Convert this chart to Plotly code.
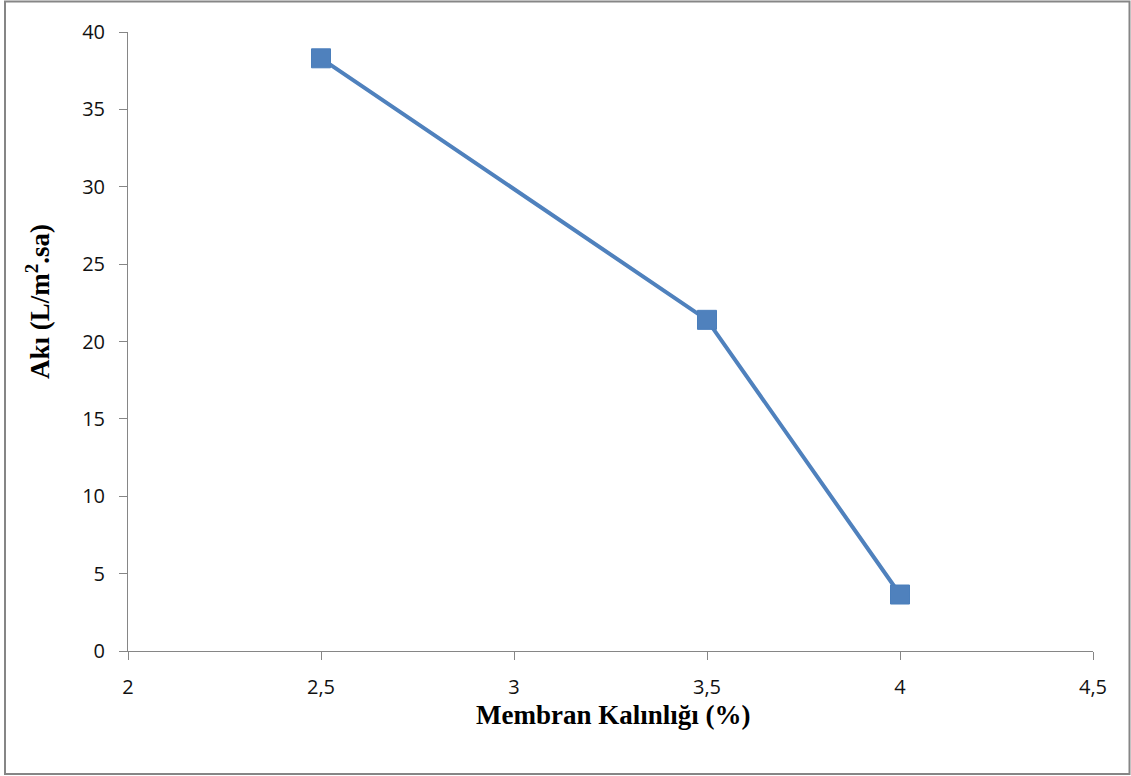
import plotly.graph_objects as go

thickness = [2.5, 3.5, 4.0]
flux = [38.3, 21.4, 3.65]
x_ticks = [2, 2.5, 3, 3.5, 4, 4.5]
x_tick_labels = ["2", "2,5", "3", "3,5", "4", "4,5"]
y_ticks = [0, 5, 10, 15, 20, 25, 30, 35, 40]

W, H = 1131, 776
L, R, T, B = 128, 38, 32, 125
pw, ph = W - L - R, H - T - B

def px(xp):
    return (xp - L) / pw

def py(yp):
    return (H - B - yp) / ph

fig = go.Figure()
fig.add_trace(go.Scatter(
    x=thickness, y=flux, mode="lines+markers",
    line=dict(color="#4F81BD", width=4),
    marker=dict(symbol="square", size=19, color="#4F81BD",
                line=dict(color="#4A7EBB", width=1)),
    showlegend=False, cliponaxis=False,
))

axis_common = dict(
    showgrid=False, zeroline=False, showline=True, linecolor="#868686",
    linewidth=1, ticks="outside", ticklen=8, tickcolor="#868686",
    tickfont=dict(family="Open Sans, Noto Sans, sans-serif", size=20, color="#111111"),
)
fig.update_xaxes(range=[2, 4.5], tickvals=x_ticks, ticktext=x_tick_labels,
                 ticklabelstandoff=10, **axis_common)
fig.update_yaxes(range=[0, 40], tickvals=y_ticks, ticklabelstandoff=10, **axis_common)

fig.add_annotation(
    text="<b>Membran Kalınlığı (%)</b>", xref="paper", yref="paper",
    x=px(613), y=py(715), xanchor="center", yanchor="middle", showarrow=False,
    font=dict(family="Liberation Serif, Times New Roman, serif", size=27, color="#000000"),
)
fig.add_annotation(
    text="<b>Akı (L/m<sup>2</sup>.sa)</b>", xref="paper", yref="paper",
    x=px(38), y=py(302), xanchor="center", yanchor="middle", showarrow=False,
    textangle=-90,
    font=dict(family="Liberation Serif, Times New Roman, serif", size=27, color="#000000"),
)
fig.add_shape(
    type="rect", xref="paper", yref="paper",
    x0=px(5), x1=px(1129.5), y0=py(774), y1=py(1.5),
    line=dict(color="#868686", width=2), fillcolor="rgba(0,0,0,0)", layer="below",
)

fig.update_layout(
    width=W, height=H, margin=dict(l=L, r=R, t=T, b=B),
    plot_bgcolor="white", paper_bgcolor="white",
)
fig.write_html("out.html")
